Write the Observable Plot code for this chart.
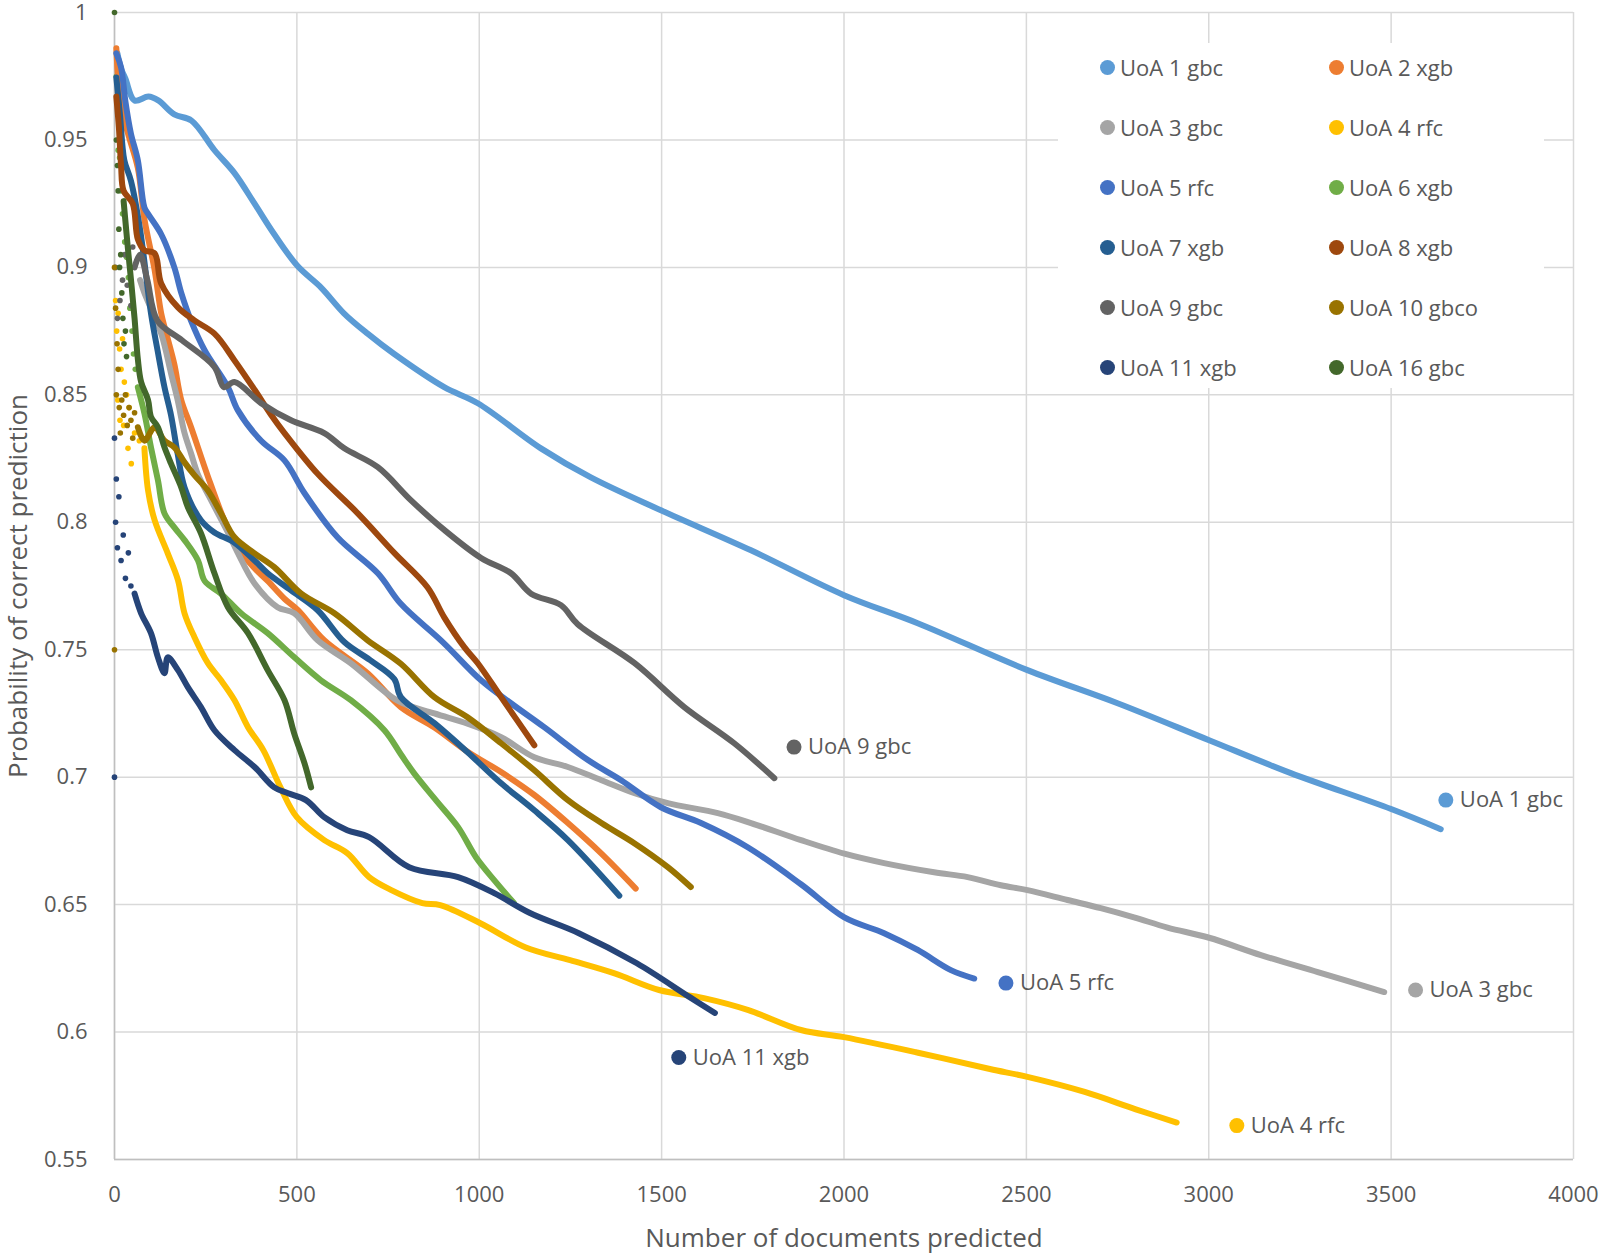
<!DOCTYPE html>
<html>
<head>
<meta charset="utf-8">
<script src="https://cdn.jsdelivr.net/npm/d3@7"></script>
<script src="https://cdn.jsdelivr.net/npm/@observablehq/plot@0.6"></script>
<style>
  html, body { margin: 0; padding: 0; background: #fff; }
  #wrap { position: relative; width: 1603px; height: 1257px; font-family: 'Open Sans', sans-serif; }
  #wrap svg { overflow: visible; }
  #legend { position: absolute; left: 1058px; top: 43px; width: 486px; height: 345px; background: #fff; }
  .item { position: absolute; display: flex; align-items: center; font-size: 22px; color: #595959; white-space: nowrap; }
  .sw { width: 15px; height: 15px; border-radius: 50%; margin-right: 5px; }
</style>
</head>
<body>
<div id="wrap"></div>
<script>
// ---- categories ----
const names = ["UoA 1 gbc","UoA 2 xgb","UoA 3 gbc","UoA 4 rfc","UoA 5 rfc","UoA 6 xgb",
               "UoA 7 xgb","UoA 8 xgb","UoA 9 gbc","UoA 10 gbco","UoA 11 xgb","UoA 16 gbc"];
const colors = ["#5B9BD5","#ED7D31","#A5A5A5","#FFC000","#4472C4","#70AD47",
                "#255E91","#9E480E","#636363","#997300","#264478","#43682B"];

// ---- tick labels ----
const xTicks = [0,500,1000,1500,2000,2500,3000,3500,4000];
const yTicks = [0.55,0.6,0.65,0.7,0.75,0.8,0.85,0.9,0.95,1];

// ---- series values: [documents predicted, probability] ----
const uoa1 = [[8,0.984],[18,0.978],[30,0.974],[55,0.9655],[93,0.967],[120,0.9655],[164,0.960],[211,0.9576],[274,0.946],[329,0.937],[384,0.925],[438,0.913],[502,0.9005],[567,0.892],[629,0.882],[694,0.874],[767,0.866],[904,0.853],[996,0.8467],[1169,0.829],[1306,0.8176],[1498,0.8047],[1745,0.789],[2000,0.7714],[2202,0.7604],[2503,0.742],[2750,0.729],[3001,0.7145],[3225,0.7016],[3500,0.6875],[3636,0.6796]];
const uoa2 = [[5,0.986],[12,0.97],[20,0.962],[37,0.9525],[64,0.939],[82,0.919],[110,0.899],[128,0.882],[146,0.872],[164,0.862],[183,0.848],[210,0.8373],[256,0.818],[301,0.8008],[338,0.790],[384,0.782],[420,0.777],[466,0.770],[503,0.7655],[575,0.7537],[694,0.7408],[785,0.7275],[877,0.7195],[968,0.7100],[1060,0.7020],[1151,0.693],[1243,0.682],[1335,0.670],[1429,0.6563]];
const uoa3 = [[70,0.895],[82,0.89],[128,0.874],[155,0.8584],[173,0.848],[192,0.835],[210,0.827],[228,0.819],[265,0.8086],[311,0.796],[338,0.788],[384,0.776],[447,0.7667],[493,0.7643],[557,0.7537],[648,0.7447],[776,0.730],[877,0.725],[968,0.721],[1060,0.7157],[1151,0.7078],[1243,0.704],[1335,0.6988],[1426,0.6937],[1517,0.6898],[1654,0.6859],[1745,0.682],[1882,0.6753],[2001,0.670],[2110,0.6663],[2247,0.6627],[2339,0.6608],[2430,0.6576],[2503,0.6557],[2613,0.6518],[2704,0.6486],[2795,0.645],[2887,0.641],[3001,0.637],[3143,0.6302],[3299,0.6235],[3481,0.6157]];
const uoa4 = [[82,0.829],[92,0.8125],[110,0.8008],[146,0.7878],[174,0.7773],[192,0.7643],[219,0.755],[256,0.7447],[292,0.738],[329,0.7302],[366,0.7196],[408,0.7106],[455,0.696],[500,0.6843],[575,0.6753],[638,0.6702],[698,0.6608],[759,0.6557],[844,0.6506],[893,0.6498],[1003,0.6427],[1126,0.6333],[1249,0.6282],[1371,0.623],[1493,0.6165],[1616,0.6133],[1738,0.6086],[1882,0.6008],[2000,0.598],[2200,0.592],[2400,0.5855],[2500,0.5825],[2660,0.5765],[2800,0.5697],[2912,0.5645]];
const uoa5 = [[5,0.984],[18,0.9785],[30,0.965],[45,0.9525],[64,0.942],[82,0.9235],[92,0.921],[128,0.913],[164,0.90],[183,0.89],[210,0.879],[247,0.8675],[311,0.853],[338,0.844],[402,0.832],[466,0.8243],[521,0.8114],[612,0.794],[722,0.78],[785,0.768],[900,0.753],[1005,0.738],[1087,0.729],[1178,0.7196],[1298,0.7067],[1389,0.6988],[1498,0.6882],[1608,0.682],[1736,0.6725],[1882,0.658],[2001,0.645],[2110,0.6388],[2202,0.6322],[2293,0.6243],[2357,0.621]];
const uoa6 = [[64,0.853],[82,0.8427],[100,0.8294],[119,0.8165],[137,0.8035],[164,0.798],[192,0.793],[229,0.785],[247,0.777],[292,0.772],[347,0.7643],[420,0.7565],[493,0.747],[566,0.738],[648,0.7302],[740,0.7184],[785,0.709],[821,0.7016],[881,0.691],[942,0.6804],[991,0.6686],[1041,0.6596],[1095,0.6506]];
const uoa7 = [[5,0.9745],[15,0.96],[27,0.942],[45,0.934],[70,0.915],[100,0.882],[118,0.8675],[137,0.853],[155,0.842],[173,0.827],[192,0.8137],[237,0.8008],[274,0.796],[329,0.792],[384,0.785],[420,0.78],[484,0.7733],[557,0.7655],[630,0.753],[700,0.746],[767,0.7385],[785,0.7314],[877,0.7212],[968,0.7098],[1060,0.6976],[1151,0.687],[1243,0.6753],[1384,0.6535]];
const uoa8 = [[5,0.967],[12,0.955],[18,0.94],[25,0.93],[50,0.925],[64,0.911],[82,0.9067],[110,0.9055],[128,0.8937],[174,0.8843],[219,0.8792],[274,0.874],[329,0.8635],[384,0.852],[430,0.842],[466,0.835],[557,0.819],[667,0.8035],[767,0.788],[858,0.7745],[904,0.7627],[959,0.751],[996,0.7447],[1060,0.7314],[1151,0.7125]];
const uoa9 = [[55,0.90],[70,0.905],[90,0.895],[118,0.879],[185,0.8714],[274,0.861],[300,0.853],[329,0.855],[402,0.8467],[484,0.840],[575,0.835],[630,0.829],[722,0.8216],[813,0.8086],[904,0.797],[1005,0.786],[1087,0.780],[1142,0.772],[1224,0.7675],[1270,0.760],[1426,0.7447],[1562,0.7275],[1699,0.7133],[1809,0.6996]];
const uoa10 = [[64,0.8373],[82,0.832],[110,0.8373],[137,0.832],[164,0.8294],[192,0.8235],[219,0.8185],[256,0.8125],[292,0.8035],[329,0.7941],[384,0.7878],[438,0.7824],[512,0.772],[603,0.7643],[694,0.7537],[785,0.7445],[877,0.7314],[968,0.7235],[1060,0.7133],[1151,0.7027],[1243,0.691],[1335,0.682],[1426,0.674],[1517,0.6647],[1580,0.6569]];
const uoa11 = [[55,0.772],[73,0.7643],[100,0.7565],[119,0.747],[137,0.7408],[146,0.747],[174,0.742],[201,0.7353],[237,0.7275],[274,0.7184],[329,0.7106],[384,0.704],[438,0.696],[476,0.6937],[525,0.691],[575,0.6843],[638,0.6792],[698,0.6765],[808,0.6647],[942,0.6608],[1041,0.6545],[1139,0.6467],[1273,0.6388],[1432,0.627],[1577,0.6137],[1646,0.6075]];
const uoa16 = [[25,0.926],[37,0.907],[46,0.894],[55,0.88],[64,0.864],[73,0.855],[92,0.848],[100,0.8414],[119,0.8373],[137,0.8294],[155,0.823],[183,0.8137],[201,0.806],[237,0.7957],[274,0.78],[311,0.7667],[366,0.7565],[420,0.742],[466,0.7302],[493,0.717],[521,0.7054],[539,0.696]];

// scattered first predictions (few documents) near the y axis
const early4 = [[3,0.887],[6,0.875],[10,0.882],[14,0.868],[18,0.86],[22,0.872],[27,0.855],[33,0.85],[40,0.845],[9,0.848],[15,0.84],[25,0.838],[37,0.829],[46,0.823],[55,0.835],[68,0.832]];
const early6 = [[5,0.975],[10,0.946],[14,0.943],[18,0.93],[22,0.921],[28,0.91],[33,0.904],[38,0.896],[42,0.884],[48,0.875],[52,0.866],[57,0.86]];
const early9 = [[3,0.90],[8,0.88],[15,0.887],[22,0.895],[28,0.905],[35,0.893],[45,0.885],[50,0.908]];
const early10 = [[0,0.75],[0,0.9],[3,0.884],[5,0.85],[7,0.87],[10,0.86],[13,0.845],[16,0.835],[20,0.848],[25,0.842],[30,0.85],[35,0.838],[40,0.845],[45,0.84],[50,0.833],[55,0.843]];
const early11 = [[0,0.70],[0,0.833],[3,0.80],[5,0.817],[8,0.79],[12,0.81],[18,0.785],[24,0.795],[30,0.778],[38,0.788],[45,0.775]];
const early16 = [[0,1.0],[5,0.95],[8,0.94],[10,0.93],[12,0.915],[14,0.9],[17,0.905],[20,0.89],[23,0.88],[26,0.87],[30,0.875],[33,0.865]];

// data labels at the end of selected series (label anchor in data units)
const labelNames = ["UoA 9 gbc","UoA 1 gbc","UoA 5 rfc","UoA 3 gbc","UoA 11 xgb","UoA 4 rfc"];
const labelX = [1863, 3650, 2444, 3567, 1547, 3077];
const labelY = [0.7118, 0.691, 0.6192, 0.6165, 0.590, 0.5633];

// ---- build tables ----
const seriesData = [uoa1,uoa2,uoa3,uoa4,uoa5,uoa6,uoa7,uoa8,uoa9,uoa10,uoa11,uoa16];
const lineRows = names.flatMap((n,i) => seriesData[i].map(([x,y]) => ({name:n, x, y})));
const earlyMap = {"UoA 4 rfc":early4,"UoA 6 xgb":early6,"UoA 9 gbc":early9,"UoA 10 gbco":early10,"UoA 11 xgb":early11,"UoA 16 gbc":early16};
const dotRows = Object.entries(earlyMap).flatMap(([n,arr]) => arr.map(([x,y]) => ({name:n, x, y})));
const labelRows = labelNames.map((n,i) => ({name:n, x:labelX[i], y:labelY[i]}));

const TXT = "#595959";
const chart = Plot.plot({
  width: 1603, height: 1257,
  marginLeft: 114, marginRight: 30, marginTop: 12, marginBottom: 98,
  x: {domain: [0,4000]},
  y: {domain: [0.55,1]},
  color: {domain: names, range: colors},
  style: {fontFamily: "'Open Sans', sans-serif", fontSize: "22px", color: TXT, background: "#fff"},
  marks: [
    Plot.ruleX(xTicks, {stroke: "#D9D9D9", strokeWidth: 1.5}),
    Plot.ruleY(yTicks, {stroke: "#D9D9D9", strokeWidth: 1.5}),
    Plot.ruleX([0], {stroke: "#BFBFBF", strokeWidth: 1.5}),
    Plot.ruleY([0.55], {stroke: "#BFBFBF", strokeWidth: 1.5}),
    Plot.axisX(xTicks, {tickSize: 0, tickPadding: 27, tickFormat: d => String(d), fontSize: 22, fill: TXT, label: null}),
    Plot.axisY(yTicks, {tickSize: 0, tickPadding: 27, tickFormat: d => String(+d.toFixed(2)), fontSize: 22, fill: TXT, label: null}),
    Plot.dot(dotRows, {x: "x", y: "y", r: 2.8, fill: "name", stroke: null}),
    Plot.line(lineRows, {x: "x", y: "y", z: "name", stroke: "name", strokeWidth: 6, curve: "catmull-rom", strokeLinejoin: "round", strokeLinecap: "round"}),
    Plot.dot(labelRows, {x: "x", y: "y", r: 7.5, fill: "name"}),
    Plot.text(labelRows, {x: "x", y: "y", text: "name", dx: 14, textAnchor: "start", fill: TXT, fontSize: 22}),
    Plot.text(["Number of documents predicted"], {frameAnchor: "bottom", dy: 87, fontSize: 26, fill: TXT}),
    Plot.text(["Probability of correct prediction"], {frameAnchor: "left", dx: -96, rotate: -90, textAnchor: "middle", fontSize: 26, fill: TXT})
  ]
});

const wrap = document.getElementById("wrap");
wrap.appendChild(chart);

// legend (in-plot box, two columns)
const legend = document.createElement("div");
legend.id = "legend";
names.forEach((n,i) => {
  const col = i % 2, row = Math.floor(i / 2);
  const it = document.createElement("div");
  it.className = "item";
  it.style.left = (col === 0 ? 42 : 271) + "px";
  it.style.top = (24 - 15 + row * 60) + "px";
  it.style.height = "30px";
  const sw = document.createElement("span");
  sw.className = "sw";
  sw.style.background = colors[i];
  const t = document.createElement("span");
  t.textContent = n;
  it.appendChild(sw); it.appendChild(t);
  legend.appendChild(it);
});
wrap.appendChild(legend);
</script>
</body>
</html>
